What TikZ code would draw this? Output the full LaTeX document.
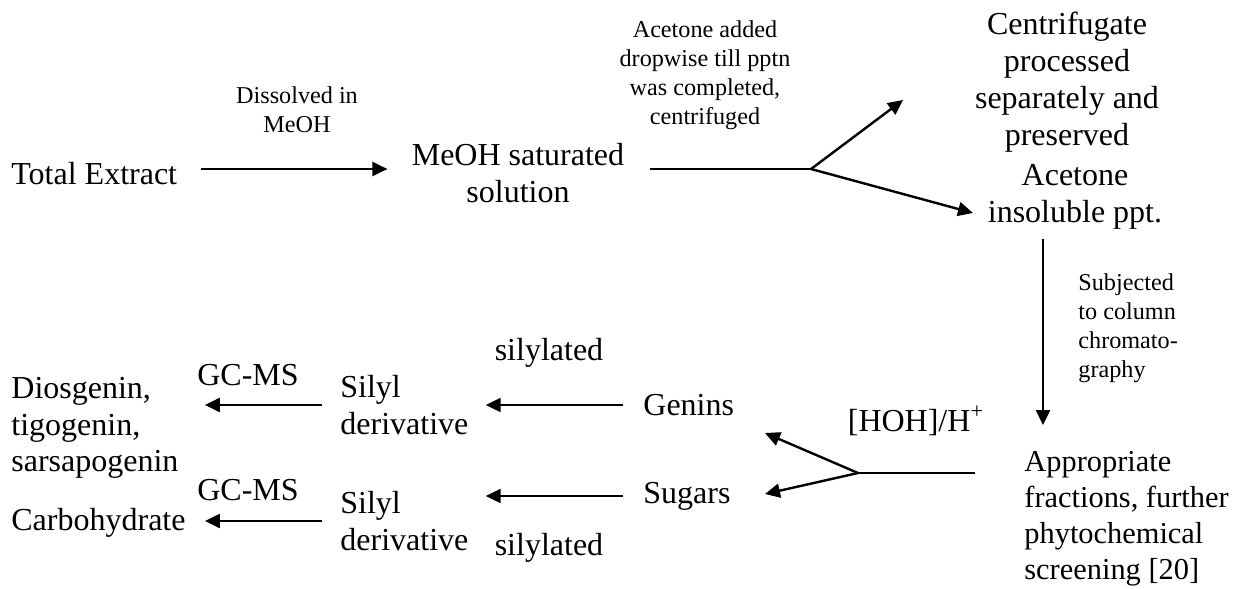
\documentclass[tikz,border=0pt]{standalone}
\usepackage{fontspec}
\setmainfont{Liberation Serif}
\usetikzlibrary{arrows.meta}

\begin{document}
\begin{tikzpicture}[x=0.5pt,y=-0.5pt,
    big/.style={font=\fontsize{16}{18.4}\selectfont, inner sep=0pt},
    small/.style={font=\fontsize{12.1}{14.5}\selectfont, inner sep=0pt},
    ln/.style={line width=1.2pt},
    arr/.style={line width=1.2pt, -{Triangle[length=7.5pt,width=7pt]}}]
    \useasboundingbox (0,0) rectangle (1237,589);

    % Top row: extract, solution and the split after centrifuging.
    \node[big, anchor=west] (total) at (11,174) {Total Extract};
    \node[small, align=center] (dissolve) at (297,110) {Dissolved in\\MeOH};
    \node[big, align=center] (meoh) at (518,173) {MeOH saturated\\solution};
    \node[small, align=center] (acetadd) at (705,75) {Acetone added\\dropwise till pptn\\was completed,\\centrifuged};
    \node[big, align=center] (centri) at (1067,82) {Centrifugate\\processed\\separately and\\preserved};
    \node[big, align=center] (ppt) at (1075,197) {Acetone\\insoluble ppt.};

    % Right column: column chromatography.
    \node[small, align=left, anchor=west] (column) at (1078,328) {Subjected\\to column\\chromato-\\graphy};
    \node[big, font=\fontsize{15.2}{18}\selectfont, align=left, anchor=west] (fractions) at (1024,519) {Appropriate\\fractions, further\\phytochemical\\screening [20]};
    \node[big] (hydro) at (916,421) {[HOH]/H\textsuperscript{+}};

    % Bottom rows: hydrolysis products and their analysis.
    \node[big, anchor=west] (genins) at (643,405) {Genins};
    \node[big, anchor=west] (sugars) at (643,496) {Sugars};
    \node[big] (silA) at (549,353) {silylated};
    \node[big] (silB) at (549,548) {silylated};
    \node[big, align=left, anchor=west] (derivA) at (340,405) {Silyl\\derivative};
    \node[big, align=left, anchor=west] (derivB) at (340,521) {Silyl\\derivative};
    \node[big] (gcA) at (248,375) {GC-MS};
    \node[big] (gcB) at (248,490) {GC-MS};
    \node[big, align=left, anchor=west] (sapo) at (11,428) {Diosgenin,\\tigogenin,\\sarsapogenin};
    \node[big, anchor=west] (carbo) at (11,523) {Carbohydrate};

    % Joints and arrow tips of the branching connectors.
    \coordinate (splitA) at (811,169);
    \coordinate (tipCentri) at (903,100);
    \coordinate (tipPpt) at (973,213);
    \coordinate (colTop) at (1043,239);
    \coordinate (colEnd) at (1043,425);
    \coordinate (splitB) at (858,473);
    \coordinate (tipGenins) at (765,433);
    \coordinate (tipSugars) at (765,494);

    \draw[arr, shorten <=12pt, shorten >=12pt] (total.east |- splitA) -- (meoh.west |- splitA);
    \draw[ln, shorten <=12.5pt] (meoh.east |- splitA) -- (splitA);
    \draw[arr] (splitA) -- (tipCentri);
    \draw[arr] (splitA) -- (tipPpt);
    \draw[arr] (colTop) -- (colEnd);
    \draw[ln, shorten <=24.5pt] (fractions.west |- splitB) -- (splitB);
    \draw[arr] (splitB) -- (tipGenins);
    \draw[arr] (splitB) -- (tipSugars);
    \draw[arr, shorten <=10pt, shorten >=8.5pt] (genins.west) -- (genins.west -| derivA.east);
    \draw[arr, shorten <=10pt, shorten >=8.5pt] (sugars.west) -- (sugars.west -| derivB.east);
    \draw[arr, shorten <=9pt, shorten >=13pt] (derivA.west) -- (derivA.west -| sapo.east);
    \draw[arr, shorten <=9pt, shorten >=9.5pt] (derivB.west) -- (derivB.west -| carbo.east);
\end{tikzpicture}
\end{document}
